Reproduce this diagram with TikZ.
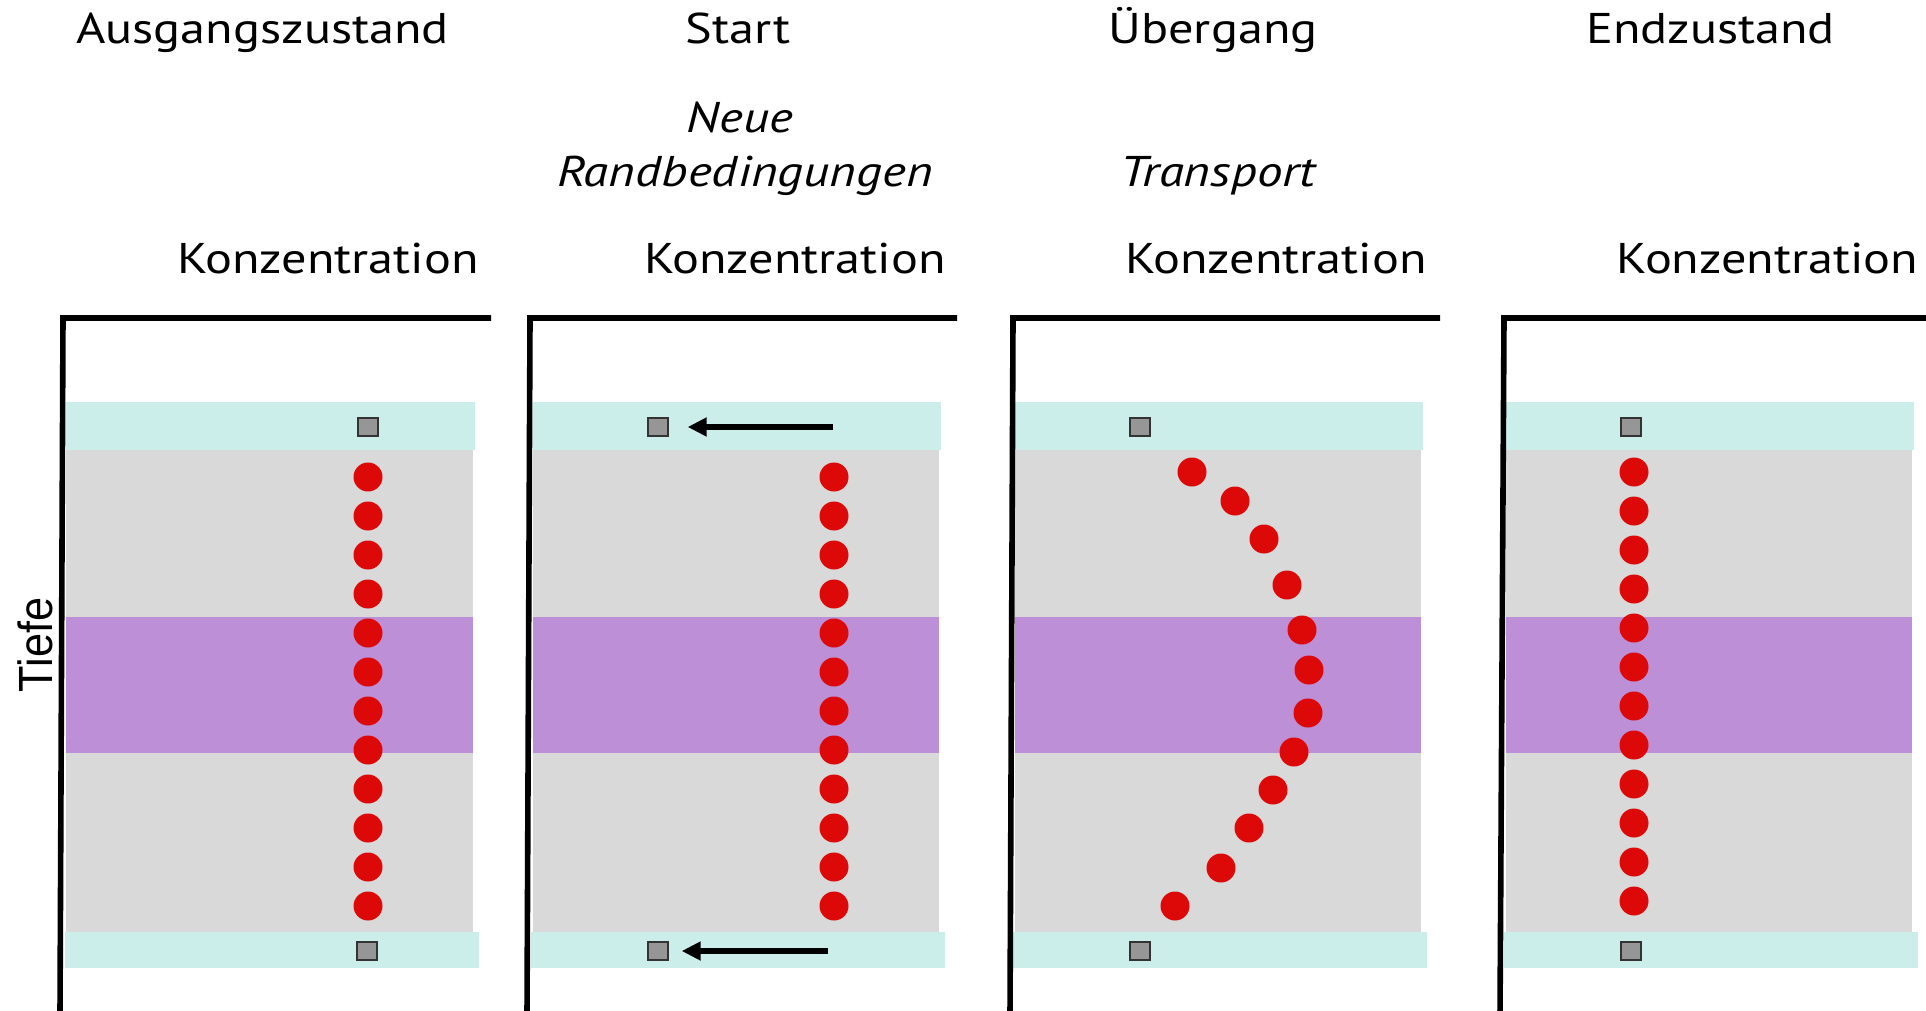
\documentclass[tikz,border=0pt]{standalone}
\usepackage{fontspec}
\setmainfont{PT Sans}[FakeStretch=1.17,ItalicFeatures={FakeStretch=1.19}]
\newfontfamily\arialf{Liberation Sans}
\usetikzlibrary{arrows.meta}
\definecolor{bandcyan}{HTML}{CCEEEB}
\definecolor{bandgray}{HTML}{D9D9D9}
\definecolor{bandpurple}{HTML}{BD8FD7}
\definecolor{dotred}{HTML}{DD0808}
\definecolor{sqfill}{HTML}{969696}
\definecolor{sqdraw}{HTML}{333333}
\tikzset{
 reddot/.style={circle,fill=dotred,inner sep=0pt,minimum size=14.5pt},
 probe/.style={rectangle,fill=sqfill,draw=sqdraw,line width=0.7pt,inner sep=0pt,minimum width=10pt,minimum height=9pt},
 axisline/.style={line width=2.8pt,line join=miter},
 flux/.style={line width=2.7pt,-{Triangle[length=9.5pt,width=9pt]}},
 lbl/.style={font=\fontsize{21.5pt}{26pt}\selectfont,inner sep=0pt,anchor=base},
 ilbl/.style={font=\fontsize{21.5pt}{26pt}\selectfont\itshape,inner sep=0pt,anchor=base},
}
\begin{document}
\begin{tikzpicture}[x=0.5pt,y=-0.5pt]
\useasboundingbox (0,0) rectangle (1926,1011);
% ---------- panel 1
\fill[bandcyan] (66,402) rectangle (475,450);
\fill[bandgray] (66,450) rectangle (473,932);
\fill[bandpurple] (66,617) rectangle (473,753);
\fill[bandcyan] (65,932) rectangle (479,968);
\draw[axisline] (60,1015) -- (63,318) -- (491,318);
\node[probe] (a-top) at (368,427) {};
\node[probe] (a-bot) at (367,951) {};
\foreach \i in {0,...,11} \node[reddot] (a\i) at (368,{477+39*\i}) {};
% ---------- panel 2
\fill[bandcyan] (533,402) rectangle (941,450);
\fill[bandgray] (533,450) rectangle (939,932);
\fill[bandpurple] (533,617) rectangle (939,753);
\fill[bandcyan] (531,932) rectangle (945,968);
\draw[axisline] (527,1015) -- (530,318) -- (957,318);
\node[probe] (b-top) at (658,427) {};
\node[probe] (b-bot) at (658,951) {};
\foreach \i in {0,...,11} \node[reddot] (b\i) at (834,{477+39*\i}) {};
\coordinate (b-ts) at (833,427);
\coordinate (b-bs) at (828,951);
\draw[flux,shorten >=9.5pt] (b-ts) -- (b-top);
\draw[flux,shorten >=6.5pt] (b-bs) -- (b-bot);
% ---------- panel 3
\fill[bandcyan] (1015,402) rectangle (1423,450);
\fill[bandgray] (1015,450) rectangle (1421,932);
\fill[bandpurple] (1015,617) rectangle (1421,753);
\fill[bandcyan] (1013,932) rectangle (1427,968);
\draw[axisline] (1010,1015) -- (1013,318) -- (1440,318);
\node[probe] (c-top) at (1140,427) {};
\node[probe] (c-bot) at (1140,951) {};
\foreach \x/\y [count=\i] in {1192/472,1235/501,1264/539,1287/585,1302/630,1309/670,1308/713,1294/752,1273/790,1249/828,1221/868,1175/906}
  \node[reddot] (c\i) at (\x,\y) {};
% ---------- panel 4
\fill[bandcyan] (1506,402) rectangle (1914,450);
\fill[bandgray] (1506,450) rectangle (1912,932);
\fill[bandpurple] (1506,617) rectangle (1912,753);
\fill[bandcyan] (1504,932) rectangle (1918,968);
\draw[axisline] (1500,1015) -- (1504,318) -- (1930,318);
\node[probe] (d-top) at (1631,427) {};
\node[probe] (d-bot) at (1631,951) {};
\foreach \i in {0,...,11} \node[reddot] (d\i) at (1634,{472+39*\i}) {};
% ---------- texts
\node[lbl] (t1) at (262.5,44) {Ausgangszustand};
\node[lbl] (t2) at (738,44) {Start};
\node[lbl] (t3) at (1213,44) {Übergang};
\node[lbl] (t4) at (1710.5,44) {Endzustand};
\node[ilbl] (s1) at (740,133) {Neue};
\node[ilbl] (s2) at (745,186) {Randbedingungen};
\node[ilbl] (s3) at (1218,186) {Transport};
\node[lbl] (k1) at (328,273) {Konzentration};
\node[lbl] (k2) at (795,273) {Konzentration};
\node[lbl] (k3) at (1276,273) {Konzentration};
\node[lbl] (k4) at (1767.5,273) {Konzentration};
\node[rotate=90,inner sep=0pt,font=\arialf\fontsize{24pt}{28pt}\selectfont] (tiefe) at (35,645) {\scalebox{0.9}[1]{Tiefe}};
\end{tikzpicture}
\end{document}
